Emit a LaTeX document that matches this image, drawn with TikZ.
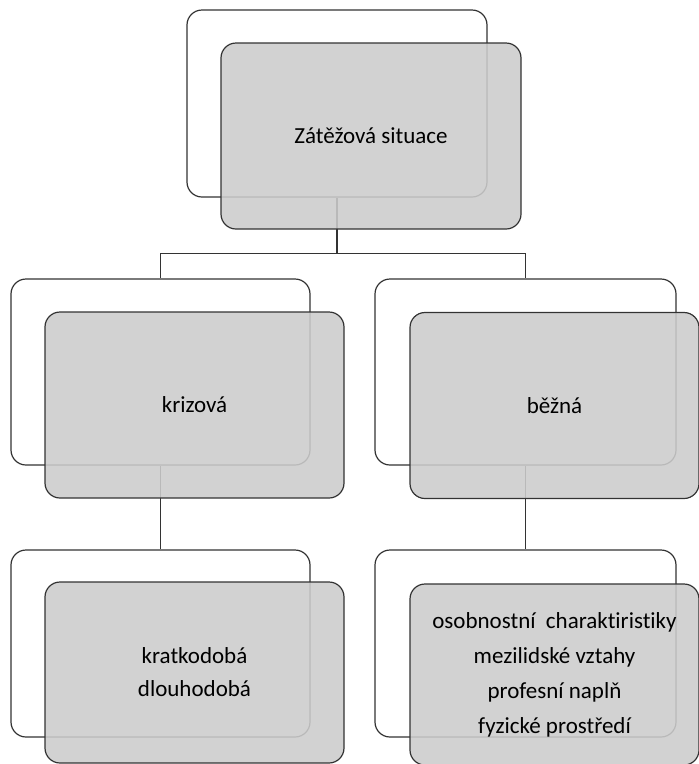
\documentclass[tikz,border=0pt]{standalone}
\usepackage{fontspec}
\setmainfont[Ligatures={NoCommon}]{Carlito}

\begin{document}
\begin{tikzpicture}[x=1pt,y=-1pt,
  back/.style={draw=black!80,line width=1.2pt,rounded corners=15pt,fill=white,
    minimum width=300pt,minimum height=187pt,inner sep=0pt},
  front/.style={draw=black!80,line width=1.2pt,rounded corners=15pt,fill=black!20,
    fill opacity=0.88,text opacity=1,text=black,minimum width=300pt,minimum height=186pt,
    inner sep=0pt,align=center,font=\fontsize{23}{33}\selectfont},
  link/.style={draw=black!80,line width=1.2pt}]

  \useasboundingbox (0,0) rectangle (699,764);

  % back frames
  \node[back] (situB) at (337,103.5) {};
  \node[back,minimum width=299pt,minimum height=186pt] (krizB) at (160.5,372) {};
  \node[back,minimum width=301pt,minimum height=186pt] (beznB) at (525.5,372) {};
  \node[back,minimum width=299pt] (kratB) at (160.5,643.5) {};
  \node[back,minimum width=301pt] (osobB) at (525.5,643.5) {};

  % connectors
  \draw[link] (situB.south) -- ++(0,56) -| (krizB.north);
  \draw[link] (situB.south) -- ++(0,56) -| (beznB.north);
  \draw[link] (krizB.south) -- (kratB.north);
  \draw[link] (beznB.south) -- (osobB.north);

  % front boxes
  \node[front] (situ) at (371,136) {Zátěžová situace};
  \node[front,minimum width=299pt] (kriz) at (194.5,405) {krizová};
  \node[front,minimum width=289pt] (bezn) at (554.5,405.5) {běžná};
  \node[front,minimum width=299pt,minimum height=181pt] (krat) at (194.5,672.5)
    {kratkodobá\\dlouhodobá};
  \node[front,minimum width=289pt,minimum height=181pt,font=\fontsize{23}{35}\selectfont] (osob) at (554.5,674.5)
    {osobnostní~ charaktiristiky\\mezilidské vztahy\\profesní naplň\\fyzické prostředí};
\end{tikzpicture}
\end{document}
